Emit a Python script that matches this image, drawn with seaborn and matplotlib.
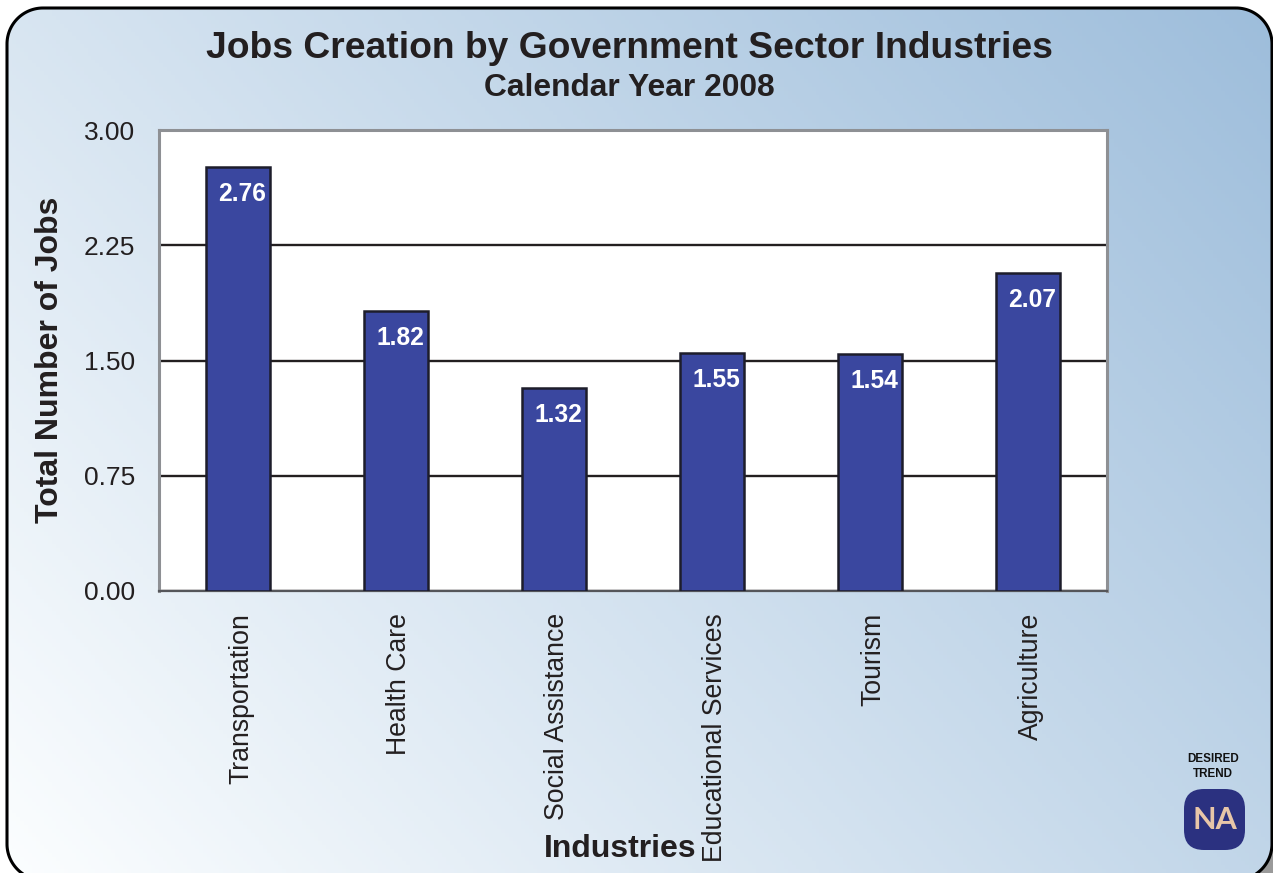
import numpy as np
import pandas as pd
import matplotlib.pyplot as plt
import seaborn as sns
from matplotlib.patches import FancyBboxPatch, Polygon
from matplotlib.transforms import ScaledTranslation

industries = ['Transportation', 'Health Care', 'Social Assistance',
              'Educational Services', 'Tourism', 'Agriculture']
jobs = [2.76, 1.82, 1.32, 1.55, 1.54, 2.07]
y_ticks = [0.00, 0.75, 1.50, 2.25, 3.00]

W, H = 1273, 873
df = pd.DataFrame({'Industry': industries, 'Jobs': jobs})

sns.set_style('white')
plt.rcParams['font.family'] = ['Liberation Sans', 'DejaVu Sans']
TEXT = '#231f20'


def rounded_outline(x0, y0, x1, y1, r):
    # plain polygon, curves running off the canvas get mangled by the clipper
    a = np.linspace(0, np.pi / 2, 40)
    corners = [(x1 - r, y0 + r, -np.pi / 2), (x1 - r, y1 - r, 0),
               (x0 + r, y1 - r, np.pi / 2), (x0 + r, y0 + r, np.pi)]
    pts = [np.c_[cx + r * np.cos(a + s), cy + r * np.sin(a + s)] for cx, cy, s in corners]
    return np.vstack(pts)


fig = plt.figure(figsize=(W / 100, H / 100), dpi=100)
fig.patch.set_facecolor('white')

# Background panel with rounded border, in pixel coordinates
bg = fig.add_axes([0, 0, 1, 1], zorder=0)
bg.axis('off')
bg.fill_between([1230, W], 840, H, color='#9a9a9a', lw=0)

gx, gy = np.meshgrid(np.linspace(0, 1, 320), np.linspace(0, 1, 220))
t = (0.62 * gx + 0.38 * (1 - gy))[..., None]
light = np.array([252, 254, 255]) / 255
dark = np.array([157, 189, 219]) / 255
img = bg.imshow(light + (dark - light) * t, extent=[0, W, H, 0], aspect='auto', zorder=1)
bg.set_xlim(0, W)
bg.set_ylim(H, 0)

outline = rounded_outline(7, 8, 1272, 880, 36)
panel = Polygon(outline, closed=True, fc='none', ec='black', lw=2.2, zorder=2)
bg.add_patch(panel)
img.set_clip_path(panel)

# Main chart
ax = fig.add_axes([159 / W, 1 - 591 / H, (1107 - 159) / W, (591 - 130) / H], zorder=1)
ax.set_facecolor('white')
sns.barplot(data=df, x='Industry', y='Jobs', ax=ax, width=0.405, color='#3a479f',
            saturation=1, edgecolor='#1d1d2b', linewidth=1.8, zorder=3)
ax.set_xlim(-0.5, 5.5)
ax.set_ylim(0, 3)
ax.set_yticks(y_ticks)
ax.set_yticklabels([f'{v:.2f}' for v in y_ticks], fontsize=19, color=TEXT)
ax.yaxis.grid(True, color='#231f20', linewidth=1.7, zorder=1)
ax.set_axisbelow(True)
ax.tick_params(axis='y', length=0, pad=17.3)
ax.tick_params(axis='x', length=0, pad=16)
ax.set_xticks(range(len(industries)))
ax.set_xticklabels(industries, rotation=90, fontsize=19.2, color=TEXT, va='top', ha='center')
shift = ScaledTranslation(3 / 100, 0, fig.dpi_scale_trans)
for label in ax.get_xticklabels():
    label.set_transform(label.get_transform() + shift)
for name, spine in ax.spines.items():
    spine.set_visible(True)
    spine.set_color('#8e9094')
    spine.set_linewidth(2.2)
ax.spines['bottom'].set_color('#55565a')
ax.spines['bottom'].set_linewidth(1.6)

for i, v in enumerate(jobs):
    ax.annotate(f'{v:.2f}', (i, v), xytext=(3.1, -19.5), textcoords='offset points',
                ha='center', va='center', color='white', fontsize=17.7, fontweight='bold', zorder=5)

ax.set_xlabel('')
ax.set_ylabel('')

fig.text(629 / W, 1 - 49 / H, 'Jobs Creation by Government Sector Industries',
         ha='center', va='center', fontsize=26.8, fontweight='bold', color=TEXT)
fig.text(629 / W, 1 - 88 / H, 'Calendar Year 2008',
         ha='center', va='center', fontsize=22.9, fontweight='bold', color=TEXT)
fig.text(50 / W, 1 - 360 / H, 'Total Number of Jobs', rotation=90,
         ha='center', va='center', fontsize=23, fontweight='bold', color=TEXT)
fig.text(620 / W, 1 - 849 / H, 'Industries',
         ha='center', va='center', fontsize=23, fontweight='bold', color=TEXT, zorder=5)

# Desired trend badge
bg.text(1213, 759, 'DESIRED', ha='center', va='center', fontsize=8.4,
        fontweight='bold', color='#111111', zorder=4)
bg.text(1213, 774, 'TREND', ha='center', va='center', fontsize=8.4,
        fontweight='bold', color='#111111', zorder=4)
bg.add_patch(FancyBboxPatch((1184 + 20, 789 + 20), 61 - 40, 61 - 40,
                            boxstyle='round,pad=20,rounding_size=20',
                            fc='#2b3180', ec='none', zorder=4))
bg.text(1214.5, 820, 'NA', ha='center', va='center', fontsize=22, family='Lato',
        fontweight='bold', color='#e8c6a8', zorder=5)

fig.savefig('out.png', dpi=100)
plt.close(fig)
